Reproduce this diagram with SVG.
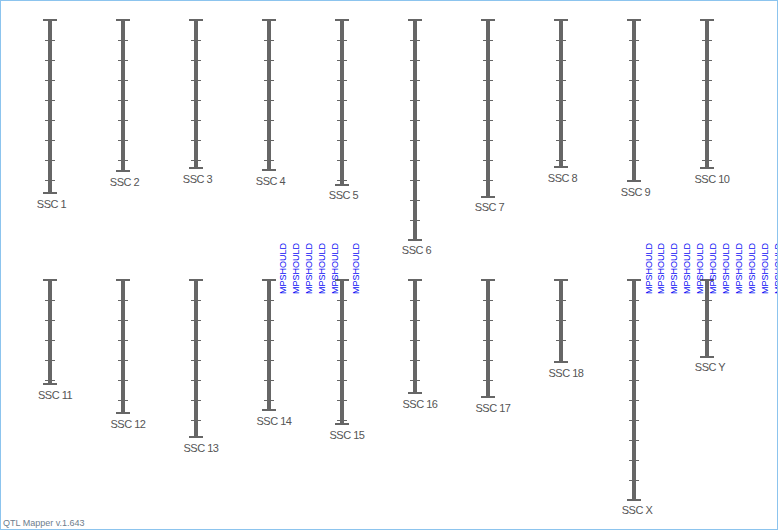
<svg xmlns="http://www.w3.org/2000/svg" width="778" height="530" viewBox="0 0 778 530">
<style>
.bar{stroke:#666;stroke-width:4;fill:none}
.cap{stroke:#666;stroke-width:2;fill:none}
.tk{stroke:#666;stroke-width:1;fill:none}
.lbl{font-family:"Liberation Sans",Arial,sans-serif;font-size:11px;fill:#555;text-anchor:middle;letter-spacing:-0.5px}
.mk{font-family:"Liberation Sans",Arial,sans-serif;font-size:9px;fill:#0c0cf5}
.ft{font-family:"Liberation Sans",Arial,sans-serif;font-size:9px;fill:#6d7d8d}
</style>
<rect x="0.5" y="0.5" width="777" height="529" fill="#fff" stroke="#8cc4ee" stroke-width="1"/>
<g id="ssc1"><path class="bar" d="M50 20V193"/><path class="cap" d="M43 20H57M43 193H57"/><path class="tk" d="M45 40.5H55M45 60.5H55M45 80.5H55M45 100.5H55M45 120.5H55M45 140.5H55M45 160.5H55M45 180.5H55"/><text class="lbl" x="51.5" y="207.5">SSC 1</text></g>
<g id="ssc2"><path class="bar" d="M123 20V171"/><path class="cap" d="M116 20H130M116 171H130"/><path class="tk" d="M118 40.5H128M118 60.5H128M118 80.5H128M118 100.5H128M118 120.5H128M118 140.5H128M118 160.5H128"/><text class="lbl" x="124.5" y="185.5">SSC 2</text></g>
<g id="ssc3"><path class="bar" d="M196 20V168"/><path class="cap" d="M189 20H203M189 168H203"/><path class="tk" d="M191 40.5H201M191 60.5H201M191 80.5H201M191 100.5H201M191 120.5H201M191 140.5H201M191 160.5H201"/><text class="lbl" x="197.5" y="182.5">SSC 3</text></g>
<g id="ssc4"><path class="bar" d="M269 20V170"/><path class="cap" d="M262 20H276M262 170H276"/><path class="tk" d="M264 40.5H274M264 60.5H274M264 80.5H274M264 100.5H274M264 120.5H274M264 140.5H274M264 160.5H274"/><text class="lbl" x="270.5" y="184.5">SSC 4</text></g>
<g id="ssc5"><path class="bar" d="M342 20V185"/><path class="cap" d="M335 20H349M335 185H349"/><path class="tk" d="M337 40.5H347M337 60.5H347M337 80.5H347M337 100.5H347M337 120.5H347M337 140.5H347M337 160.5H347M337 180.5H347"/><text class="lbl" x="343.5" y="199">SSC 5</text></g>
<g id="ssc6"><path class="bar" d="M415 20V240"/><path class="cap" d="M408 20H422M408 240H422"/><path class="tk" d="M410 40.5H420M410 60.5H420M410 80.5H420M410 100.5H420M410 120.5H420M410 140.5H420M410 160.5H420M410 180.5H420M410 200.5H420M410 220.5H420"/><text class="lbl" x="416.5" y="254">SSC 6</text></g>
<g id="ssc7"><path class="bar" d="M488 20V197"/><path class="cap" d="M481 20H495M481 197H495"/><path class="tk" d="M483 40.5H493M483 60.5H493M483 80.5H493M483 100.5H493M483 120.5H493M483 140.5H493M483 160.5H493M483 180.5H493"/><text class="lbl" x="489.5" y="211">SSC 7</text></g>
<g id="ssc8"><path class="bar" d="M561 20V167"/><path class="cap" d="M554 20H568M554 167H568"/><path class="tk" d="M556 40.5H566M556 60.5H566M556 80.5H566M556 100.5H566M556 120.5H566M556 140.5H566M556 160.5H566"/><text class="lbl" x="562.5" y="181.5">SSC 8</text></g>
<g id="ssc9"><path class="bar" d="M634 20V181"/><path class="cap" d="M627 20H641M627 181H641"/><path class="tk" d="M629 40.5H639M629 60.5H639M629 80.5H639M629 100.5H639M629 120.5H639M629 140.5H639M629 160.5H639"/><text class="lbl" x="635.5" y="195.5">SSC 9</text></g>
<g id="ssc10"><path class="bar" d="M707 20V168"/><path class="cap" d="M700 20H714M700 168H714"/><path class="tk" d="M702 40.5H712M702 60.5H712M702 80.5H712M702 100.5H712M702 120.5H712M702 140.5H712M702 160.5H712"/><text class="lbl" x="712" y="182.5">SSC 10</text></g>
<g id="ssc11"><path class="bar" d="M50 280V384"/><path class="cap" d="M43 280H57M43 384H57"/><path class="tk" d="M45 300.5H55M45 320.5H55M45 340.5H55M45 360.5H55M45 380.5H55"/><text class="lbl" x="55" y="398.5">SSC 11</text></g>
<g id="ssc12"><path class="bar" d="M123 280V413"/><path class="cap" d="M116 280H130M116 413H130"/><path class="tk" d="M118 300.5H128M118 320.5H128M118 340.5H128M118 360.5H128M118 380.5H128M118 400.5H128"/><text class="lbl" x="128" y="427.5">SSC 12</text></g>
<g id="ssc13"><path class="bar" d="M196 280V437"/><path class="cap" d="M189 280H203M189 437H203"/><path class="tk" d="M191 300.5H201M191 320.5H201M191 340.5H201M191 360.5H201M191 380.5H201M191 400.5H201M191 420.5H201"/><text class="lbl" x="201" y="451.5">SSC 13</text></g>
<g id="ssc14"><path class="bar" d="M269 280V410"/><path class="cap" d="M262 280H276M262 410H276"/><path class="tk" d="M264 300.5H274M264 320.5H274M264 340.5H274M264 360.5H274M264 380.5H274M264 400.5H274"/><text class="lbl" x="274" y="424.5">SSC 14</text></g>
<g id="ssc15"><path class="bar" d="M342 280V424"/><path class="cap" d="M335 280H349M335 424H349"/><path class="tk" d="M337 300.5H347M337 320.5H347M337 340.5H347M337 360.5H347M337 380.5H347M337 400.5H347M337 420.5H347"/><text class="lbl" x="347" y="438.5">SSC 15</text></g>
<g id="ssc16"><path class="bar" d="M415 280V393"/><path class="cap" d="M408 280H422M408 393H422"/><path class="tk" d="M410 300.5H420M410 320.5H420M410 340.5H420M410 360.5H420M410 380.5H420"/><text class="lbl" x="420" y="407.5">SSC 16</text></g>
<g id="ssc17"><path class="bar" d="M488 280V397"/><path class="cap" d="M481 280H495M481 397H495"/><path class="tk" d="M483 300.5H493M483 320.5H493M483 340.5H493M483 360.5H493M483 380.5H493"/><text class="lbl" x="493" y="411.5">SSC 17</text></g>
<g id="ssc18"><path class="bar" d="M561 280V362"/><path class="cap" d="M554 280H568M554 362H568"/><path class="tk" d="M556 300.5H566M556 320.5H566M556 340.5H566"/><text class="lbl" x="566" y="376.5">SSC 18</text></g>
<g id="sscX"><path class="bar" d="M634 280V500"/><path class="cap" d="M627 280H641M627 500H641"/><path class="tk" d="M629 300.5H639M629 320.5H639M629 340.5H639M629 360.5H639M629 380.5H639M629 400.5H639M629 420.5H639M629 440.5H639M629 460.5H639M629 480.5H639"/><text class="lbl" x="637" y="514">SSC X</text></g>
<g id="sscY"><path class="bar" d="M707 280V357"/><path class="cap" d="M700 280H714M700 357H714"/><path class="tk" d="M702 300.5H712M702 320.5H712M702 340.5H712"/><text class="lbl" x="710" y="371">SSC Y</text></g>
<g id="markers">
<text class="mk" transform="translate(286,294) rotate(-90)">MPSHOULD</text>
<text class="mk" transform="translate(299,294) rotate(-90)">MPSHOULD</text>
<text class="mk" transform="translate(312,294) rotate(-90)">MPSHOULD</text>
<text class="mk" transform="translate(325,294) rotate(-90)">MPSHOULD</text>
<text class="mk" transform="translate(338,294) rotate(-90)">MPSHOULD</text>
<text class="mk" transform="translate(359,294) rotate(-90)">MPSHOULD</text>
<text class="mk" transform="translate(651.5,294) rotate(-90)">MPSHOULD</text>
<text class="mk" transform="translate(664.4,294) rotate(-90)">MPSHOULD</text>
<text class="mk" transform="translate(677.3,294) rotate(-90)">MPSHOULD</text>
<text class="mk" transform="translate(690.2,294) rotate(-90)">MPSHOULD</text>
<text class="mk" transform="translate(703.1,294) rotate(-90)">MPSHOULD</text>
<text class="mk" transform="translate(716,294) rotate(-90)">MPSHOULD</text>
<text class="mk" transform="translate(728.9,294) rotate(-90)">MPSHOULD</text>
<text class="mk" transform="translate(741.8,294) rotate(-90)">MPSHOULD</text>
<text class="mk" transform="translate(754.7,294) rotate(-90)">MPSHOULD</text>
<text class="mk" transform="translate(767.6,294) rotate(-90)">MPSHOULD</text>
<text class="mk" transform="translate(780.5,294) rotate(-90)">MPSHOULD</text>
</g>
<path d="M777.5 0V530" stroke="#8cc4ee" stroke-width="1"/>
<text class="ft" x="3" y="526">QTL Mapper v.1.643</text>
</svg>
